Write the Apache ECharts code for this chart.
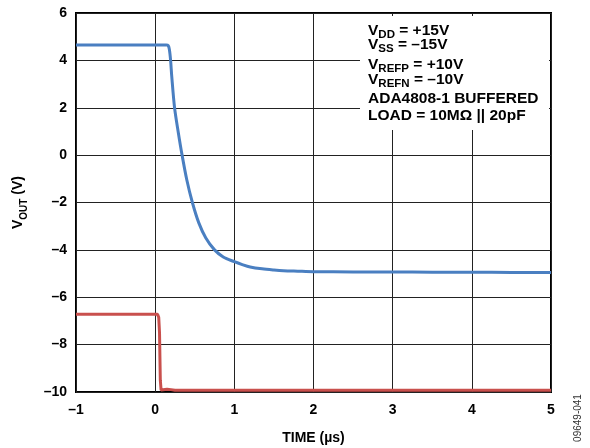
<!DOCTYPE html>
<html><head><meta charset="utf-8">
<script src="https://cdn.jsdelivr.net/npm/echarts@6/dist/echarts.min.js"></script>
<style>html,body{margin:0;padding:0;background:#fff}#c{width:590px;height:448px}</style>
</head><body><div id="c"></div>
<script>
var blueTime = [-1, 0.14, 0.165, 0.18, 0.195, 0.21, 0.245, 0.29, 0.34, 0.40, 0.47, 0.55, 0.64, 0.75, 0.86, 1.0, 1.1, 1.2, 1.35, 1.5, 1.62, 1.8, 2.0, 2.5, 3.0, 3.5, 4.0, 4.5, 5.0];
var blueVout = [4.65, 4.65, 4.62, 4.45, 4.0, 3.3, 2.0, 1.0, 0.0, -1.05, -2.0, -2.85, -3.5, -4.0, -4.3, -4.5, -4.62, -4.72, -4.8, -4.85, -4.88, -4.9, -4.92, -4.93, -4.93, -4.94, -4.94, -4.95, -4.96];
var redTime = [-1, 0.03, 0.045, 0.055, 0.065, 0.075, 0.1, 0.15, 0.2, 0.25, 5];
var redVout = [-6.72, -6.72, -6.85, -7.5, -9.5, -9.92, -9.93, -9.88, -9.9, -9.93, -9.93];
var xTicks = [-1, 0, 1, 2, 3, 4, 5];
var yTicks = [-10, -8, -6, -4, -2, 0, 2, 4, 6];
var notes = [
  ['V', 'DD', ' = +15V'],
  ['V', 'SS', ' = \u201315V'],
  ['V', 'REFP', ' = +10V'],
  ['V', 'REFN', ' = \u201310V'],
  ['ADA4808-1 BUFFERED', '', ''],
  ['LOAD = 10M\u03A9 || 20pF', '', '']
];
var noteY = [32, 46, 66, 81, 100, 117];

function zip(a, b) { return a.map(function (v, i) { return [v, b[i]]; }); }
function fmt(v) { return String(v).replace('-', '\u2013'); }
var FF = '"Liberation Sans", Arial, sans-serif';
var rich = {
  b: { fontFamily: FF, fontWeight: 'bold', fontSize: 15.5, color: '#000', lineHeight: 18, verticalAlign: 'top' },
  s: { fontFamily: FF, fontWeight: 'bold', fontSize: 11.5, color: '#000', lineHeight: 18, verticalAlign: 'bottom' }
};
var graphics = [{
  type: 'rect', shape: { x: 360, y: 16, width: 189, height: 114 },
  style: { fill: '#fff' }, z: 10
}];
notes.forEach(function (n, i) {
  var t = '{b|' + n[0] + '}' + (n[1] ? '{s|' + n[1] + '}' : '') + (n[2] ? '{b|' + n[2] + '}' : '');
  graphics.push({ type: 'text', x: 368, y: noteY[i], z: 11,
    style: { text: t, rich: rich, verticalAlign: 'middle', align: 'left' } });
});
graphics.push({ type: 'text', x: 578, y: 418, rotation: Math.PI / 2, z: 11,
  style: { text: '09649-041', fontFamily: FF, fontSize: 10, fill: '#333', align: 'center', verticalAlign: 'middle' } });

var chart = echarts.init(document.getElementById('c'), null, { renderer: 'canvas' });
chart.setOption({
  animation: false,
  backgroundColor: '#fff',
  grid: { left: 76, right: 39, top: 13, bottom: 56, containLabel: false, outerBoundsMode: 'none',
    show: true, borderColor: '#000', borderWidth: 2, backgroundColor: 'transparent' },
  xAxis: {
    type: 'value', min: xTicks[0], max: xTicks[xTicks.length - 1], interval: 1,
    name: 'TIME (\u00B5s)', nameLocation: 'middle', nameGap: 39,
    nameTextStyle: { fontFamily: FF, fontWeight: 'bold', fontSize: 14, color: '#000' },
    axisLine: { show: false }, axisTick: { show: false },
    axisLabel: { formatter: fmt, fontFamily: FF, fontWeight: 'bold', fontSize: 14, color: '#000', margin: 11 },
    splitLine: { show: true, lineStyle: { color: '#222', width: 1 } }
  },
  yAxis: {
    type: 'value', min: yTicks[0], max: yTicks[yTicks.length - 1], interval: 2,
    name: '{b|V}{s|OUT}{b| (V)}', nameLocation: 'middle', nameGap: 47, nameRotate: 90,
    nameTextStyle: { rich: {
      b: { fontFamily: FF, fontWeight: 'bold', fontSize: 14, color: '#000', lineHeight: 18, verticalAlign: 'top' },
      s: { fontFamily: FF, fontWeight: 'bold', fontSize: 10, color: '#000', lineHeight: 18, verticalAlign: 'bottom' } } },
    axisLine: { show: false }, axisTick: { show: false },
    axisLabel: { formatter: fmt, fontFamily: FF, fontWeight: 'bold', fontSize: 14, color: '#000', margin: 9 },
    splitLine: { show: true, lineStyle: { color: '#222', width: 1 } }
  },
  graphic: graphics,
  series: [
    { type: 'line', data: zip(blueTime, blueVout), showSymbol: false, smooth: 0.3, z: 5,
      lineStyle: { color: '#4a7fc1', width: 3 } },
    { type: 'line', data: zip(redTime, redVout), showSymbol: false, smooth: false, z: 4,
      lineStyle: { color: '#c9504d', width: 3 } }
  ]
});
</script></body></html>
